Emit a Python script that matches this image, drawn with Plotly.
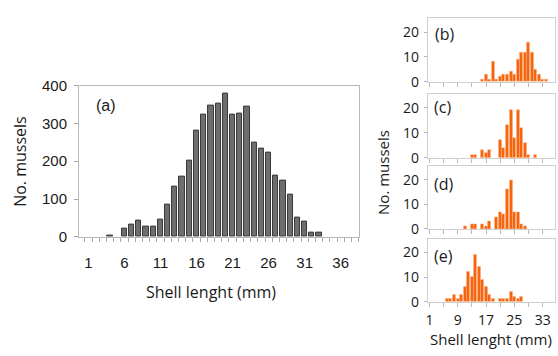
import plotly.graph_objects as go

W, H = 558, 356

# Panel (a): all mussels
a_len = [4, 6, 7, 8, 9, 10, 11, 12, 13, 14, 15, 16, 17, 18, 19, 20, 21, 22, 23, 24, 25, 26, 27, 28, 29, 30, 31, 32, 33]
a_cnt = [2, 22, 33, 42, 27, 27, 46, 86, 133, 159, 202, 281, 322, 348, 352, 378, 322, 327, 344, 250, 233, 222, 161, 150, 111, 52, 40, 10, 10]

# Panels (b)-(e)
b_len = list(range(16, 35))
b_cnt = [1, 3, 1, 8, 1, 2, 3, 3, 4, 3, 9, 12, 12, 16, 12, 5, 3, 1, 1]

c_len = [13, 14, 16, 17, 18, 21, 22, 23, 24, 25, 26, 27, 28, 29, 31]
c_cnt = [1, 1, 3, 2, 3, 7, 4, 13, 19, 8, 19, 12, 6, 1, 1]

d_len = [11, 13, 14, 16, 17, 18, 20, 21, 22, 23, 24, 25, 26, 27, 28]
d_cnt = [1, 2, 2, 2, 1, 3, 5, 7, 6, 16, 20, 7, 7, 2, 1]

e_len = [6, 7, 8, 9, 10, 11, 12, 13, 14, 15, 16, 17, 18, 19, 21, 22, 23, 24, 25, 26, 27]
e_cnt = [1, 1, 3, 1, 3, 6, 12, 10, 19, 14, 9, 6, 3, 1, 1, 1, 1, 4, 2, 1, 2]

a_ticks = [1, 6, 11, 16, 21, 26, 31, 36]
small_ticks = [1, 5, 9, 13, 17, 21, 25, 29, 33]
small_labels = ["1", "", "9", "", "17", "", "25", "", "33"]

ARIAL = "Liberation Sans"
MYR = "Open Sans"
ORANGE = "#f5650f"
FRAME = "#cfcfcf"

fig = go.Figure()

fig.add_trace(go.Bar(x=a_len, y=a_cnt, xaxis="x", yaxis="y",
                     marker=dict(color="#6e6e6e", line=dict(color="#383838", width=1)),
                     width=0.72, showlegend=False))

panels = [(b_len, b_cnt), (c_len, c_cnt), (d_len, d_cnt), (e_len, e_cnt)]
for i, (xs, ys) in enumerate(panels):
    n = i + 2
    fig.add_trace(go.Bar(x=xs, y=ys, xaxis=f"x{n}", yaxis=f"y{n}",
                         marker=dict(color=ORANGE, line=dict(color="#ffb080", width=0.5)),
                         width=0.85, showlegend=False))

def px_x(p):
    return p / W

def px_y(p):
    return 1 - p / H

layout = dict(
    width=W, height=H, margin=dict(l=0, r=0, t=0, b=0),
    paper_bgcolor="white", plot_bgcolor="white",
    bargap=0,
    xaxis=dict(domain=[px_x(77.3), px_x(358)], range=[-0.3, 38.5],
               tickmode="array", tickvals=a_ticks, ticks="", showgrid=False,
               showline=True, linecolor="#b8b8b8", mirror=True, zeroline=False,
               tickfont=dict(family=ARIAL, size=15, color="#1a1a1a"),
               ticklabelstandoff=12,
               minor=dict(tickmode="linear", tick0=0.5, dtick=1, ticks="outside",
                          ticklen=4, tickcolor="#a8a8a8", showgrid=False),
               anchor="y"),
    yaxis=dict(domain=[px_y(240), px_y(80.7)], range=[0, 400], dtick=100,
               ticks="outside", ticklen=4, tickcolor="#a8a8a8", showgrid=False,
               showline=True, linecolor="#b8b8b8", mirror=True, zeroline=False,
               tickfont=dict(family=ARIAL, size=15, color="#1a1a1a"),
               ticklabelstandoff=4, anchor="x"),
)

small_geo = [(10, 76.7), (89.5, 156.7), (165.5, 231.7), (242, 308.3)]
for i, (top, bot) in enumerate(small_geo):
    n = i + 2
    layout[f"xaxis{n}"] = dict(
        domain=[px_x(427.3), px_x(555)], range=[0.5, 36.5],
        tickmode="array", tickvals=small_ticks,
        ticktext=small_labels if n == 5 else [""] * len(small_ticks),
        ticks="outside", ticklen=4, tickcolor="#b8b8b8", showgrid=False,
        showline=True, linecolor=FRAME, mirror=True, zeroline=False,
        tickfont=dict(family=MYR, size=14, color="#1a1a1a"),
        ticklabelstandoff=1, anchor=f"y{n}")
    layout[f"yaxis{n}"] = dict(
        domain=[px_y(bot), px_y(top)], range=[0, 25.5], tickvals=[0, 10, 20],
        ticks="outside", ticklen=3, tickcolor="#b8b8b8", showgrid=False,
        showline=True, linecolor=FRAME, mirror=True, zeroline=False,
        tickfont=dict(family=MYR, size=14, color="#1a1a1a"),
        ticklabelstandoff=2, anchor=f"x{n}")

fig.update_layout(**layout)

ann = [
    dict(text="(a)", x=px_x(92), y=px_y(102), xanchor="left", yanchor="middle",
         font=dict(family=ARIAL, size=16, color="#1a1a1a")),
    dict(text="(b)", x=px_x(433), y=px_y(26), xanchor="left", yanchor="middle",
         font=dict(family=MYR, size=16, color="#1a1a1a")),
    dict(text="(c)", x=px_x(432), y=px_y(103), xanchor="left", yanchor="middle",
         font=dict(family=MYR, size=16, color="#1a1a1a")),
    dict(text="(d)", x=px_x(432), y=px_y(184), xanchor="left", yanchor="middle",
         font=dict(family=MYR, size=16, color="#1a1a1a")),
    dict(text="(e)", x=px_x(432), y=px_y(260), xanchor="left", yanchor="middle",
         font=dict(family=MYR, size=16, color="#1a1a1a")),
    dict(text="Shell lenght (mm)", x=px_x(210), y=px_y(298), xanchor="center", yanchor="middle",
         font=dict(family=MYR, size=16, color="#1a1a1a")),
    dict(text="No. mussels", x=px_x(18), y=px_y(160), xanchor="center", yanchor="middle",
         textangle=-90, font=dict(family=MYR, size=16, color="#1a1a1a")),
    dict(text="Shell lenght (mm)", x=px_x(491), y=px_y(348), xanchor="center", yanchor="middle",
         font=dict(family=MYR, size=15, color="#1a1a1a")),
    dict(text="No. mussels", x=px_x(383), y=px_y(172), xanchor="center", yanchor="middle",
         textangle=-90, font=dict(family=MYR, size=15, color="#1a1a1a")),
]
for a in ann:
    a.update(xref="paper", yref="paper", showarrow=False)
fig.update_layout(annotations=ann)

fig.write_html("out.html")
